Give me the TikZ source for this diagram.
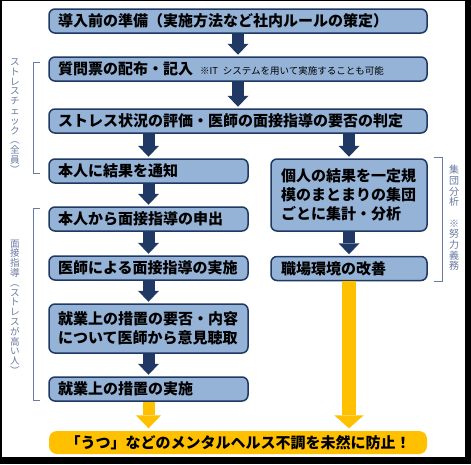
\documentclass[tikz,border=0pt]{standalone}
\usepackage{fontspec}
\usetikzlibrary{arrows.meta}
\newfontfamily\jp{Noto Sans CJK JP}
\definecolor{boxblue}{HTML}{95B3D7}
\definecolor{navy}{HTML}{1F3864}
\definecolor{gold}{HTML}{FFC000}
\definecolor{sidegray}{HTML}{687BA3}
\tikzset{
  flowbox/.style={draw=navy, line width=1.5pt, fill=boxblue, rounded corners=6pt,
    inner xsep=9pt, inner ysep=0pt, minimum height=24pt, align=left,
    font=\jp\bfseries\fontsize{15}{19}\selectfont},
  goalbox/.style={fill=gold, rounded corners=8pt, inner sep=0pt, minimum height=23pt,
    text width=378pt, align=center, font=\jp\bfseries\fontsize{15}{19}\selectfont},
  darrow/.style={draw=navy, line width=12pt, shorten >=1.5pt,
    -{Triangle[width=21pt,length=11pt,line width=0pt]}},
  yarrow/.style={draw=gold, line width=#1, shorten >=2.5pt,
    -{Triangle[width=2.1*#1,length=13pt,line width=0pt]}},
  sidebrace/.style={draw=sidegray, line width=0.8pt},
  sidelabel/.style={text=sidegray, inner sep=0pt, align=center,
    font=\jp\fontsize{9.6}{9.8}\selectfont}
}

\begin{document}
\begin{tikzpicture}[x=1pt, y=-1pt]
  \useasboundingbox (0,0) rectangle (471,464);
  \fill[black] (0,0) rectangle (471,464);
  \fill[white] (2,1) rectangle (465,457);

  % main column
  \node[flowbox, text width=360pt] (plan) at (238,21) {導入前の準備（実施方法など社内ルールの策定）};
  \node[flowbox, text width=360pt] (sheet) at (238,69) {質問票の配布・記入\hspace{7pt}{\mdseries\fontsize{9.5}{11}\selectfont ※IT システムを用いて実施することも可能}};
  \node[flowbox, text width=360pt] (judge) at (238,121) {ストレス状況の評価・医師の面接指導の要否の判定};

  % left column
  \node[flowbox, text width=181pt] (notify) at (148.5,171) {本人に結果を通知};
  \node[flowbox, text width=181pt] (request) at (148.5,219) {本人から面接指導の申出};
  \node[flowbox, text width=181pt] (interview) at (148.5,268) {医師による面接指導の実施};
  \node[flowbox, text width=181pt, minimum height=49pt] (opinion) at (148.5,328.5) {就業上の措置の要否・内容\\について医師から意見聴取};
  \node[flowbox, text width=181pt] (measure) at (148.5,389) {就業上の措置の実施};

  % right column
  \node[flowbox, text width=136pt, inner xsep=10pt, minimum height=72pt] (group) at (349,195) {個人の結果を一定規\\模のまとまりの集団\\ごとに集計・分析};
  \node[flowbox, text width=136pt, inner xsep=10pt] (improve) at (349,268.5) {職場環境の改善};

  \node[goalbox] (goal) at (238,442.5) {「うつ」などのメンタルヘルス不調を未然に防止！};

  % arrows
  \draw[darrow] (plan) -- (sheet);
  \draw[darrow] (sheet) -- (judge);
  \draw[darrow] (judge.south -| notify.north) -- (notify.north);
  \draw[darrow] (judge.south -| group.north) -- (group.north);
  \draw[darrow] (notify) -- (request);
  \draw[darrow] (request) -- (interview);
  \draw[darrow] (interview) -- (opinion);
  \draw[darrow] (opinion) -- (measure);
  \draw[darrow] (group) -- (improve);
  \draw[yarrow=12pt] (measure.south) -- (measure.south |- goal.north);
  \draw[yarrow=14pt] (improve.south) -- (improve.south |- goal.north);

  % side brackets
  \draw[sidebrace] (40,62) -- (33,62) -- (33,173) -- (40,173);
  \draw[sidebrace] (40,208) -- (33,208) -- (33,400) -- (40,400);
  \draw[sidebrace] (434,157) -- (442,157) -- (442,281) -- (434,281);
  \node[sidelabel] (checklabel) at (15,116) {ス\\ト\\レ\\ス\\チ\\ェ\\ッ\\ク\\︵\\全\\員\\︶};
  \node[sidelabel] (talklabel) at (15,307) {面\\接\\指\\導\\︵\\ス\\ト\\レ\\ス\\が\\高\\い\\人\\︶};
  \node[sidelabel, font=\jp\fontsize{10}{10.7}\selectfont] (grouplabel) at (454,218) {集\\団\\分\\析\\\mbox{}\\※\\努\\力\\義\\務};
\end{tikzpicture}
\end{document}
